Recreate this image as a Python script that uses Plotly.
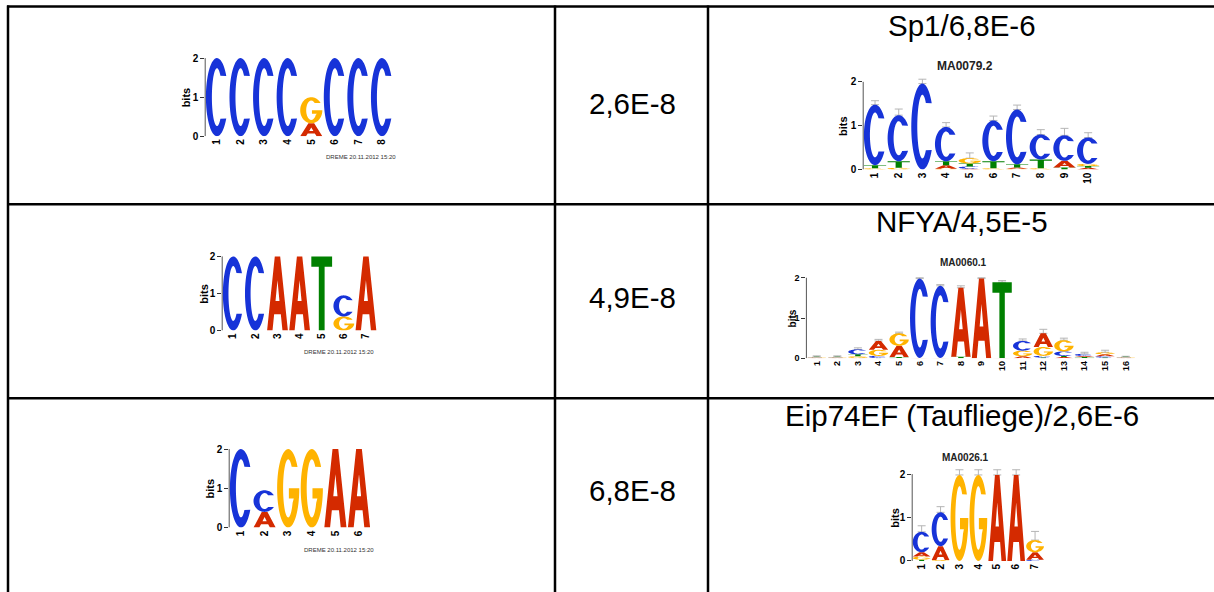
import math
import plotly.graph_objects as go

W, H = 1214, 592          # drawing coordinate frame (pixels)
FIG_H = 599               # figure height handed to the browser

# ---- table text ----
factor_titles = ["Sp1/6,8E-6", "NFYA/4,5E-5", "Eip74EF (Taufliege)/2,6E-6"]
e_values = ["2,6E-8", "4,9E-8", "6,8E-8"]
jaspar_ids = ["MA0079.2", "MA0060.1", "MA0026.1"]
dreme_stamp = "DREME 20.11.2012 15:20"

# ---- motif letter heights (bits) per position ----
# DREME motif 1: CCCCRCCC
m1_A = [0, 0, 0, 0, 0.33, 0, 0, 0]
m1_C = [2, 2, 2, 2, 0, 2, 2, 2]
m1_G = [0, 0, 0, 0, 0.67, 0, 0, 0]
m1_T = [0, 0, 0, 0, 0, 0, 0, 0]

# JASPAR MA0079.2 (Sp1)
j1_A = [0, 0, 0, 0.08, 0.02, 0, 0.03, 0, 0.15, 0.04]
j1_C = [1.38, 1.05, 1.96, 0.78, 0.05, 0.93, 1.25, 0.57, 0.58, 0.60]
j1_G = [0.03, 0.04, 0, 0.02, 0.12, 0.03, 0.02, 0.03, 0, 0.05]
j1_T = [0.07, 0.15, 0, 0.09, 0.07, 0.16, 0.07, 0.20, 0.05, 0.04]
j1_err = [1.57, 1.38, 2.06, 1.07, 0.38, 1.22, 1.47, 0.91, 0.94, 0.84]

# DREME motif 2: CCAATSA
m2_A = [0, 0, 2, 2, 0, 0, 2]
m2_C = [2, 2, 0, 0, 0, 0.57, 0]
m2_G = [0, 0, 0, 0, 0, 0.38, 0]
m2_T = [0, 0, 0, 0, 2, 0, 0]

# JASPAR MA0060.1 (NFYA)
j2_A = [0.01, 0.01, 0.01, 0.22, 0.28, 0.01, 0.01, 1.71, 1.98, 0.01, 0.05, 0.34, 0.03, 0.03, 0.05, 0.01]
j2_C = [0.01, 0.01, 0.12, 0.05, 0.01, 1.97, 1.79, 0, 0, 0, 0.24, 0.04, 0.11, 0.05, 0.03, 0.01]
j2_G = [0.01, 0.01, 0.04, 0.15, 0.31, 0, 0, 0, 0, 0, 0.14, 0.22, 0.28, 0.01, 0.05, 0.01]
j2_T = [0.01, 0.01, 0.05, 0.01, 0.02, 0, 0, 0.04, 0, 1.88, 0, 0.02, 0.03, 0.02, 0.02, 0.01]
j2_err = [0.06, 0.06, 0.26, 0.47, 0.65, 2.0, 1.83, 1.80, 2.0, 1.93, 0.48, 0.72, 0.50, 0.15, 0.20, 0.05]

# DREME motif 3: CMGGAA
m3_A = [0, 0.40, 0, 0, 2, 2]
m3_C = [2, 0.55, 0, 0, 0, 0]
m3_G = [0, 0, 2, 2, 0, 0]
m3_T = [0, 0, 0, 0, 0, 0]

# JASPAR MA0026.1 (Eip74EF)
j3_A = [0.10, 0.32, 0, 0, 1.98, 1.98, 0.17]
j3_C = [0.47, 0.78, 0, 0, 0, 0, 0.03]
j3_G = [0.07, 0.02, 1.98, 1.98, 0, 0, 0.28]
j3_T = [0.03, 0, 0, 0, 0, 0, 0]
j3_err = [0.81, 1.25, 2.10, 2.10, 2.10, 2.10, 0.68]

LETTER_COLORS = {"A": "#D42A00", "C": "#1733D8", "G": "#FFB300", "T": "#008000"}
FONT = "Liberation Sans, Arial, Helvetica, sans-serif"


def arc(cx, cy, rx, ry, a0, a1, n):
    pts = []
    for k in range(n + 1):
        a = math.radians(a0 + (a1 - a0) * k / n)
        pts.append((cx + rx * math.cos(a), cy + ry * math.sin(a)))
    return pts


def glyph(letter):
    """Letter outline contours in a unit box (x right, y up)."""
    if letter == "A":
        return [
            [(0, 0), (0.37, 1), (0.63, 1), (1, 0), (0.74, 0), (0.66, 0.22), (0.34, 0.22), (0.26, 0)],
            [(0.405, 0.40), (0.595, 0.40), (0.5, 0.68)],
        ]
    if letter == "T":
        return [[(0, 1), (1, 1), (1, 0.86), (0.64, 0.86), (0.64, 0), (0.36, 0), (0.36, 0.86), (0, 0.86)]]
    if letter == "C":
        return [arc(0.5, 0.5, 0.5, 0.5, 33, 327, 56) + arc(0.5, 0.5, 0.23, 0.37, 312, 48, 48)]
    if letter == "G":
        outer = arc(0.5, 0.5, 0.5, 0.5, 33, 360, 58)
        bar = [(0.53, 0.5), (0.53, 0.37), (0.75, 0.37)]
        inner = arc(0.5, 0.5, 0.23, 0.37, 330, 48, 48)
        return [outer + bar + inner]
    return []


def letter_path(letter, pos, base, height, pad=0.03):
    parts = []
    for contour in glyph(letter):
        pts = [(pos - 0.5 + pad + gx * (1 - 2 * pad), base + gy * height) for gx, gy in contour]
        parts.append("M " + " L ".join(f"{x:.4f},{y:.4f}" for x, y in pts) + " Z")
    return " ".join(parts)


# subplot frames: left/right pixel of the position range, pixel of 0 bits, pixels per bit
logos = [
    dict(A=m1_A, C=m1_C, G=m1_G, T=m1_T, err=None, frame=(205.2, 393.8, 136.0, 39.0),
         title=None, stamp=(361, 157), tick=10, bits=11, bits_dx=19),
    dict(A=j1_A, C=j1_C, G=j1_G, T=j1_T, err=j1_err, frame=(863.2, 1100.0, 169.3, 43.8),
         title=(jaspar_ids[0], 965, 66, 12), stamp=None, tick=10, bits=11, bits_dx=20),
    dict(A=m2_A, C=m2_C, G=m2_G, T=m2_T, err=None, frame=(222.2, 377.0, 330.0, 37.0),
         title=None, stamp=(339, 351), tick=10, bits=11, bits_dx=18),
    dict(A=j2_A, C=j2_C, G=j2_G, T=j2_T, err=j2_err, frame=(806.4, 1136.0, 357.7, 40.2),
         title=(jaspar_ids[1], 963, 262, 10), stamp=None, tick=9, bits=10, bits_dx=14),
    dict(A=m3_A, C=m3_C, G=m3_G, T=m3_T, err=None, frame=(229.2, 370.8, 526.7, 39.2),
         title=None, stamp=(338.5, 549), tick=10, bits=11, bits_dx=19),
    dict(A=j3_A, C=j3_C, G=j3_G, T=j3_T, err=j3_err, frame=(912.2, 1044.5, 560.0, 43.35),
         title=(jaspar_ids[2], 965, 457, 10), stamp=None, tick=10, bits=11, bits_dx=18),
]

YTOP = 2.15

fig = go.Figure()
shapes = []
annotations = []
layout_axes = {}


def px_x(x):
    return x / W


def px_y(y):
    return 1 - y / H


for k, lg in enumerate(logos, start=1):
    xl, xr, y0, ppb = lg["frame"]
    n = len(lg["A"])
    xs = list(range(1, n + 1))
    xa = "x" if k == 1 else f"x{k}"
    ya = "y" if k == 1 else f"y{k}"
    xkey = "xaxis" if k == 1 else f"xaxis{k}"
    ykey = "yaxis" if k == 1 else f"yaxis{k}"

    layout_axes[xkey] = dict(
        domain=[px_x(xl), px_x(xr)], range=[0.5, n + 0.5], anchor=ya,
        tickmode="array", tickvals=xs, ticktext=[str(i) for i in xs], tickangle=-90,
        showline=False, showgrid=False, zeroline=False, ticks="",
        tickfont=dict(family=FONT, size=lg["tick"], color="black", weight="bold"),
        fixedrange=True,
    )
    layout_axes[ykey] = dict(
        domain=[px_y(y0), px_y(y0 - YTOP * ppb)], range=[0, YTOP], anchor=xa,
        tickmode="array", tickvals=[0, 1, 2], ticktext=["0", "1", "2"],
        ticks="outside", ticklen=4, tickwidth=1, tickcolor="#333",
        showline=False, showgrid=False, zeroline=False,
        tickfont=dict(family=FONT, size=lg["tick"], color="black", weight="bold"),
        fixedrange=True,
    )

    # y axis spine from 0 to 2 bits
    shapes.append(dict(type="line", xref=f"{xa} domain", yref=ya, x0=0, x1=0, y0=0, y1=2,
                       line=dict(color="#555", width=1), layer="above"))

    # stacked letters: smallest at the bottom, largest on top
    totals = []
    for i in range(n):
        heights = [(lg[L][i], L) for L in "ACGT" if lg[L][i] > 0]
        heights.sort()
        base = 0.0
        for h, L in heights:
            shapes.append(dict(type="path", xref=xa, yref=ya,
                               path=letter_path(L, xs[i], base, h),
                               fillcolor=LETTER_COLORS[L], line=dict(width=0), layer="above"))
            base += h
        totals.append(base)

    trace = dict(x=xs, y=totals, xaxis=xa, yaxis=ya, mode="markers",
                 marker=dict(size=1, color="rgba(0,0,0,0)"), hoverinfo="skip", showlegend=False)
    if lg["err"] is not None:
        trace["error_y"] = dict(type="data", symmetric=False,
                                array=[max(e - t, 0) for e, t in zip(lg["err"], totals)],
                                arrayminus=[0] * n, color="#B5B5B5", thickness=1, width=4)
    fig.add_trace(go.Scatter(**trace))

    annotations.append(dict(text="<b>bits</b>", xref="paper", yref="paper",
                            x=px_x(xl - lg["bits_dx"]), y=px_y(y0 - ppb), textangle=-90,
                            showarrow=False, xanchor="center", yanchor="middle",
                            font=dict(family=FONT, size=lg["bits"], color="black")))
    if lg["title"]:
        t, tx, ty, ts = lg["title"]
        annotations.append(dict(text=f"<b>{t}</b>", xref="paper", yref="paper",
                                x=px_x(tx), y=px_y(ty), showarrow=False,
                                xanchor="center", yanchor="middle",
                                font=dict(family=FONT, size=ts, color="#222")))
    if lg["stamp"]:
        sx, sy = lg["stamp"]
        annotations.append(dict(text=dreme_stamp, xref="paper", yref="paper",
                                x=px_x(sx), y=px_y(sy), showarrow=False,
                                xanchor="center", yanchor="middle",
                                font=dict(family=FONT, size=6, color="#333")))

# ---- table grid ----
row_lines = [6.5, 204, 397.5]
col_lines = [8, 555, 708]
for yy in row_lines:
    shapes.append(dict(type="line", xref="paper", yref="paper", x0=px_x(col_lines[0] - 1), x1=1,
                       y0=px_y(yy), y1=px_y(yy), line=dict(color="black", width=2.5)))
for xx in col_lines:
    shapes.append(dict(type="line", xref="paper", yref="paper", x0=px_x(xx), x1=px_x(xx),
                       y0=px_y(row_lines[0] - 1), y1=0, line=dict(color="black", width=2.5)))

# ---- cell text ----
ev_y = [103, 297, 490]
title_y = [25, 221, 415]
for i in range(3):
    annotations.append(dict(text=e_values[i], xref="paper", yref="paper", x=px_x(632),
                            y=px_y(ev_y[i]), showarrow=False, xanchor="center", yanchor="middle",
                            font=dict(family=FONT, size=29.5, color="black")))
    annotations.append(dict(text=factor_titles[i], xref="paper", yref="paper", x=px_x(962),
                            y=px_y(title_y[i]), showarrow=False, xanchor="center", yanchor="middle",
                            font=dict(family=FONT, size=29.5, color="black")))

fig.update_layout(
    width=W, height=FIG_H, margin=dict(l=0, r=0, t=0, b=0),
    paper_bgcolor="white", plot_bgcolor="white",
    showlegend=False, shapes=shapes, annotations=annotations,
    **layout_axes,
)

# no scrollbars around the figure
page_css = (
    "document.documentElement.style.overflow='hidden';"
    "document.body.style.overflow='hidden';"
    "document.body.style.margin='0';"
)
fig.write_html("out.html", config={"displayModeBar": False}, post_script=page_css)
